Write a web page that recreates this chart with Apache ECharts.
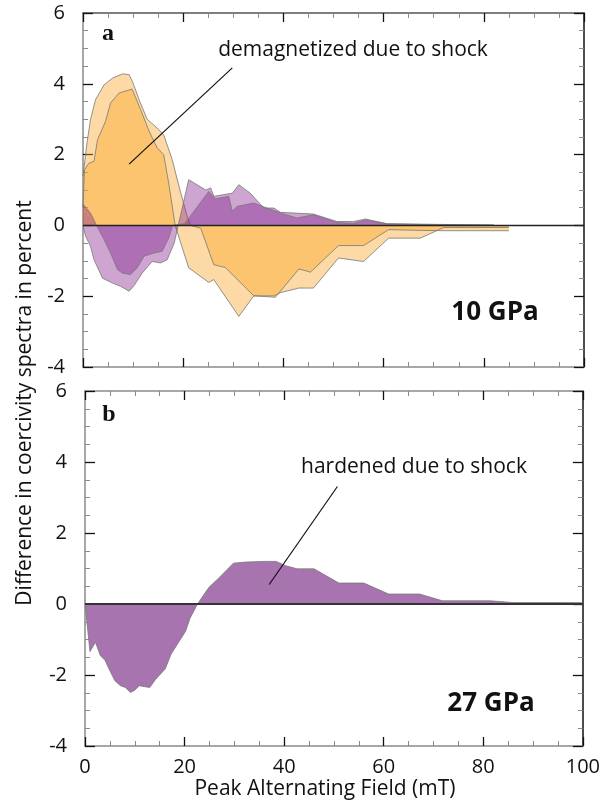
<!DOCTYPE html>
<html><head><meta charset="utf-8">
<script src="https://cdn.jsdelivr.net/npm/echarts@6/dist/echarts.min.js"></script>
<style>html,body{margin:0;padding:0;background:#fff}#c{width:603px;height:806px}</style>
</head><body><div id="c"></div>
<script>
// ---------- DATA (Peak Alternating Field mT, difference %) ----------
// Panel a (10 GPa)
const aOrangeOuter = [[0,1.4],[0.8,2.33],[1.5,2.99],[2.5,3.55],[4.2,3.97],[5.9,4.16],[7.9,4.28],[9.2,4.26],[10.0,4.02],[11.2,3.55],[12.8,3.0],[14.8,2.75],[16.1,2.56],[17.8,1.86],[19.5,0.92],[20.8,0.25],[21.5,0],[23.5,-0.08],[26.1,-1.11],[28.4,-1.19],[34.1,-1.99],[38.4,-2.03],[43.1,-1.23],[45.4,-1.32],[51,-0.57],[56,-0.57],[61,-0.12],[67.3,-0.14],[72,-0.15],[85,-0.15]];
const aOrangeInner = [[0,0.5],[0.3,1.57],[1.2,1.76],[2.2,1.81],[2.9,2.42],[4.5,2.94],[5.5,3.46],[7.2,3.74],[9.8,3.85],[11.5,3.27],[13.2,2.66],[14.8,2.19],[16.1,2.0],[17.1,1.2],[18.4,0],[21.1,-1.2],[22.1,-1.3],[25.1,-1.61],[26.1,-1.53],[31.1,-2.57],[34.1,-1.99],[38.1,-1.99],[39.4,-1.9],[43.1,-1.77],[46,-1.77],[51,-0.92],[56,-1.02],[61,-0.36],[67.3,-0.36],[72,-0.06],[85,-0.06]];
const aPurpleOuter = [[0,0],[0.5,-0.3],[1.5,-0.59],[2.2,-0.97],[3.9,-1.49],[5.9,-1.63],[7.5,-1.72],[9.2,-1.86],[10.2,-1.7],[11.8,-1.35],[13.8,-1.02],[15.5,-1.06],[16.8,-0.97],[18.2,-0.5],[19.0,0],[21.1,1.29],[24.5,1.0],[25.5,1.06],[26.1,0.82],[29.8,0.91],[31.1,1.15],[33.4,0.91],[36.1,0.49],[38.1,0.49],[39.4,0.37],[46,0.32],[50.7,0.11],[54,0.11],[56.4,0.18],[60.7,0.05],[70,0.03],[82,0.01]];
const aPurpleInner = [[0,0.6],[1.5,0.35],[2.7,0],[4.2,-0.4],[5.5,-0.78],[6.9,-1.25],[7.9,-1.35],[9.5,-1.39],[10.8,-1.2],[12.2,-0.87],[14.2,-0.78],[15.8,-0.73],[17.1,-0.36],[17.9,0],[20.3,0.05],[25.1,0.96],[26.4,0.75],[29.1,0.82],[29.8,0.4],[30.8,0.54],[34.1,0.63],[35.8,0.54],[39.4,0.35],[42.7,0.21],[46,0.3],[50.7,0.08],[54,0.06],[56.4,0.15],[60.7,0.04],[70,0.02],[82,0.01]];
// Panel b (27 GPa)
const bPurple = [[0,0],[1.0,-1.34],[2.1,-1.08],[3.1,-1.46],[4.0,-1.58],[5.0,-1.88],[6.0,-2.16],[7.1,-2.3],[8.1,-2.35],[9.1,-2.49],[10.0,-2.43],[10.9,-2.3],[12.0,-2.33],[13.0,-2.35],[14.2,-2.12],[16.1,-1.83],[17.3,-1.41],[18.8,-1.08],[20.2,-0.77],[21.1,-0.4],[22.6,0],[24.9,0.47],[27.0,0.75],[29.8,1.15],[32.2,1.18],[36.1,1.2],[38.4,1.2],[40.3,1.08],[42.6,0.99],[46.0,0.99],[51.0,0.59],[56.0,0.59],[61.0,0.28],[67.2,0.28],[71.8,0.09],[81.4,0.09],[86.0,0.04],[100,0.04]];
// zero reference line and annotation pointers
const zeroLine = [[0,0],[100,0]];
const aPointer = [[29.8,4.45],[9.2,1.73]];
const bPointer = [[50.7,3.31],[37.0,0.55]];
// axis settings
const xMin = 0, xMax = 100, xStep = 20;
const yMin = -4, yMax = 6, yStep = 2;
// texts
const yTitle = 'Difference in coercivity spectra in percent';
const xTitle = 'Peak Alternating Field (mT)';
const aNote = 'demagnetized due to shock';
const bNote = 'hardened due to shock';
const aLabel = '10 GPa', bLabel = '27 GPa';

// ---------- CHART ----------
const FONT = '"Open Sans", "Noto Sans", sans-serif';
const chart = echarts.init(document.getElementById('c'), null, {renderer: 'canvas'});

function xAx(grid, pos, labels, lineColor) {
  return {
    type: 'value', gridIndex: grid, position: pos, min: xMin, max: xMax, interval: xStep,
    axisLine: {show: true, onZero: false, lineStyle: {color: lineColor, width: 1.5}},
    axisTick: {show: true, inside: true, length: 9, lineStyle: {color: '#111', width: 1.3}},
    minorTick: {show: true, splitNumber: 4, length: 5, lineStyle: {color: '#8a8a8a', width: 1}},
    axisLabel: {show: labels, fontFamily: FONT, fontSize: 20, color: '#111', margin: 11},
    splitLine: {show: false}, minorSplitLine: {show: false}
  };
}
function yAx(grid, pos, labels, lineColor) {
  return {
    type: 'value', gridIndex: grid, position: pos, min: yMin, max: yMax, interval: yStep,
    axisLine: {show: true, onZero: false, lineStyle: {color: lineColor, width: 1.5}},
    axisTick: {show: true, inside: true, length: 10, lineStyle: {color: '#111', width: 1.3}},
    minorTick: {show: true, splitNumber: 4, length: 5, lineStyle: {color: '#8a8a8a', width: 1}},
    axisLabel: {show: labels, fontFamily: FONT, fontSize: 20, color: '#111', margin: 18},
    splitLine: {show: false}, minorSplitLine: {show: false}
  };
}
function area(data, fill, xi, yi, z) {
  return {
    type: 'line', data: data, xAxisIndex: xi, yAxisIndex: yi, symbol: 'none', silent: true,
    lineStyle: {color: 'rgba(120,120,120,0.8)', width: 1}, areaStyle: {color: fill, opacity: 1}, z: z
  };
}
function plain(data, color, width, xi, yi) {
  return {type: 'line', data: data, xAxisIndex: xi, yAxisIndex: yi, symbol: 'none', silent: true,
    lineStyle: {color: color, width: width}, z: 10};
}
const ORANGE = 'rgba(250,163,30,0.40)';
const PURPLE = 'rgba(130,30,138,0.40)';
const GRAY = '#8a8a8a', BLACK = '#111';

chart.setOption({
  animation: false,
  backgroundColor: '#fff',
  grid: [
    {left: 83, top: 13, right: 19, bottom: 439},
    {left: 85, top: 391, right: 18, bottom: 60}
  ],
  xAxis: [xAx(0, 'bottom', false, GRAY), xAx(0, 'top', false, '#555'), xAx(1, 'bottom', true, GRAY), xAx(1, 'top', false, GRAY)],
  yAxis: [yAx(0, 'left', true, GRAY), yAx(0, 'right', false, BLACK), yAx(1, 'left', true, GRAY), yAx(1, 'right', false, BLACK)],
  series: [
    area(aOrangeOuter, ORANGE, 0, 0, 2),
    area(aOrangeInner, ORANGE, 0, 0, 2),
    area(aPurpleOuter, PURPLE, 0, 0, 3),
    area(aPurpleInner, PURPLE, 0, 0, 3),
    plain(zeroLine, '#222', 1.5, 0, 0),
    plain(aPointer, '#111', 1.2, 0, 0),
    area(bPurple, '#a874b0', 2, 2, 2),
    plain(zeroLine, '#333', 1.8, 2, 2),
    plain(bPointer, '#111', 1.2, 2, 2)
  ],
  graphic: [
    {type: 'text', x: 108, y: 34, style: {text: 'a', font: 'bold 24px "Liberation Serif", serif', fill: '#111', textAlign: 'center', textVerticalAlign: 'middle'}},
    {type: 'text', x: 109, y: 415, style: {text: 'b', font: 'bold 24px "Liberation Serif", serif', fill: '#111', textAlign: 'center', textVerticalAlign: 'middle'}},
    {type: 'text', x: 353, y: 50, style: {text: aNote, font: '21px ' + FONT, fill: '#111', textAlign: 'center', textVerticalAlign: 'middle'}},
    {type: 'text', x: 414, y: 467, style: {text: bNote, font: '21px ' + FONT, fill: '#111', textAlign: 'center', textVerticalAlign: 'middle'}},
    {type: 'text', x: 495, y: 313, style: {text: aLabel, font: 'bold 26px ' + FONT, fill: '#111', textAlign: 'center', textVerticalAlign: 'middle'}},
    {type: 'text', x: 491, y: 704, style: {text: bLabel, font: 'bold 26px ' + FONT, fill: '#111', textAlign: 'center', textVerticalAlign: 'middle'}},
    {type: 'text', x: 325, y: 789, style: {text: xTitle, font: '21px ' + FONT, fill: '#111', textAlign: 'center', textVerticalAlign: 'middle'}},
    {type: 'text', x: 25, y: 403, rotation: Math.PI / 2, style: {text: yTitle, font: '21px ' + FONT, fill: '#111', textAlign: 'center', textVerticalAlign: 'middle'}}
  ]
});
</script></body></html>
